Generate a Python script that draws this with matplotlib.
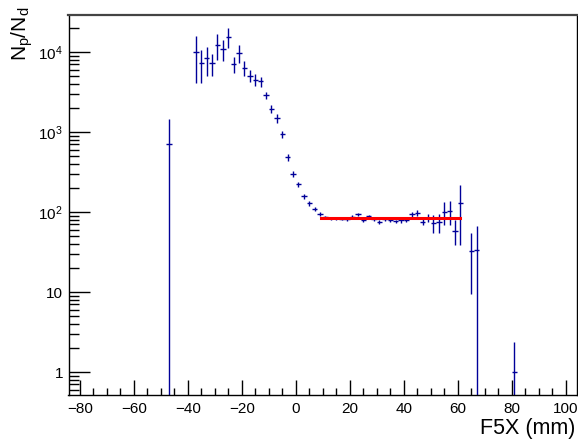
import numpy as np
import matplotlib.pyplot as plt
from matplotlib.ticker import FixedLocator, MultipleLocator, NullFormatter

plt.rcParams['font.family'] = ['Liberation Sans', 'DejaVu Sans']
plt.rcParams['mathtext.fontset'] = 'custom'
plt.rcParams['mathtext.rm'] = 'Liberation Sans'
plt.rcParams['mathtext.it'] = 'Liberation Sans'

# bin centres (2 mm bins) and ratio Np/Nd with errors
x_centers = [-47, -37, -35, -33, -31, -29, -27, -25, -23, -21, -19, -17,
             -15, -13, -11, -9, -7, -5, -3, -1, 1, 3, 5, 7, 9, 11, 13, 15,
             17, 19, 21, 23, 25, 27, 29, 31, 33, 35, 37, 39, 41, 43, 45,
             47, 49, 51, 53, 55, 57, 59, 61, 65, 67, 81]
ratio = [718, 9900, 7330, 8365, 7250, 12300, 10960, 15500, 7040, 9770,
         6345, 5080, 4530, 4280, 2860, 1950, 1480, 938, 485, 300, 221, 158,
         128, 109, 95, 86, 83.6, 83.6, 82.5, 82, 87.5, 93.5, 80, 88.5, 82,
         74.6, 81.5, 78.5, 76.5, 78.5, 79.5, 94, 96.5, 75.4, 85, 73.3, 75.4,
         100.6, 102.3, 58.7, 128.8, 32.4, 33.3, 1.0]
ratio_err = [725, 5800, 3200, 3300, 2200, 4300, 3300, 4400, 1500, 2500,
             1300, 870, 760, 650, 270, 230, 190, 87, 45, 25, 16, 11, 8, 6,
             5, 4, 4, 4, 4, 4, 4, 5, 4, 4, 4, 4, 4, 4, 4, 5, 5, 7, 8, 7, 10,
             18, 20, 31, 34, 20, 90, 23, 34, 1.4]
bin_half = 1.0

# constant fit
fit_level = 85.3
fit_range = [9.5, 61.0]

fig = plt.figure(figsize=(5.78, 4.43), dpi=100)
ax = fig.add_axes([68.5 / 578, 1 - 395 / 443, (576.5 - 68.5) / 578, (395 - 15) / 443])

ax.errorbar(x_centers, ratio, yerr=ratio_err, xerr=bin_half, fmt='none',
            ecolor='#000099', elinewidth=1.0, capsize=0)
ax.plot(fit_range, [fit_level, fit_level], color='#ff0000', lw=2.2)

ax.set_yscale('log', nonpositive='clip')
ax.set_ylim(0.516, 29000)

ax.xaxis.set_major_locator(MultipleLocator(20))
ax.xaxis.set_minor_locator(MultipleLocator(5))
ax.yaxis.set_major_locator(FixedLocator([1, 10, 100, 1000, 10000]))
ax.yaxis.set_major_formatter(plt.FixedFormatter(
    ['1', '10', r'$\mathregular{10^{2}}$', r'$\mathregular{10^{3}}$',
     r'$\mathregular{10^{4}}$']))
minors = [m * 10.0 ** d for d in range(-1, 5) for m in range(2, 10)]
ax.yaxis.set_minor_locator(FixedLocator(minors))
ax.yaxis.set_minor_formatter(NullFormatter())

ax.tick_params(axis='both', which='both', direction='in', top=False,
               right=False, colors='black', labelsize=11, width=1)
ax.tick_params(axis='x', which='major', length=11, pad=5)
ax.tick_params(axis='x', which='minor', length=5)
ax.tick_params(axis='y', which='major', length=15, pad=4)
ax.tick_params(axis='y', which='minor', length=7.5)
xt = np.arange(-80, 101, 20)
ax.set_xticks(xt)
ax.set_xticklabels(['\u2212%d' % -v if v < 0 else '%d' % v for v in xt])
ax.set_xlim(-84.2, 104.0)

for s in ax.spines.values():
    s.set_linewidth(1.0)
ax.spines['top'].set_linewidth(1.6)
ax.spines['top'].set_color('#444444')

fig.text(575.5 / 578, 1 - 434 / 443, 'F5X (mm)', ha='right', va='baseline',
         fontsize=15.5)
fig.text(27 / 578, 1 - 7 / 443, r'$\mathregular{N_p/N_d}$', rotation=90,
         ha='right', va='baseline', fontsize=15, rotation_mode='anchor')

fig.savefig('out.png', dpi=100)
